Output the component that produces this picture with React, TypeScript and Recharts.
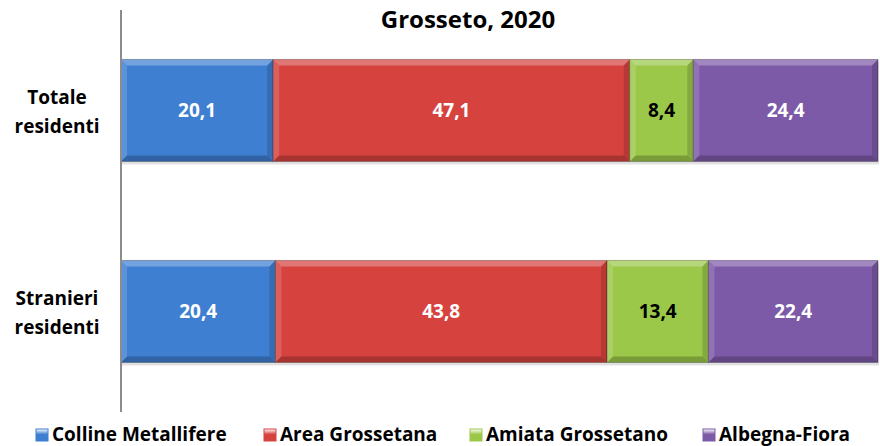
import React from 'react';
import { BarChart, Bar, XAxis, YAxis, LabelList } from 'recharts';

const categories = ['Totale residenti', 'Stranieri residenti'];
const collineMetallifere = [20.1, 20.4];
const areaGrossetana = [47.1, 43.8];
const amiataGrossetano = [8.4, 13.4];
const albegnaFiora = [24.4, 22.4];

const seriesNames = ['Colline Metallifere', 'Area Grossetana', 'Amiata Grossetano', 'Albegna-Fiora'];
const seriesKeys = ['cm', 'ag', 'am', 'af'];
const seriesColors = ['#3f7fd2', '#d6433f', '#9cc84a', '#7d5aa8'];
const labelColors = ['#ffffff', '#ffffff', '#000000', '#ffffff'];

const data = categories.map((name, i) => ({
    name,
    cm: collineMetallifere[i],
    ag: areaGrossetana[i],
    am: amiataGrossetano[i],
    af: albegnaFiora[i],
}));

const FONT = '"Open Sans", Lato, sans-serif';

// bevelled bar segment, Office 2007 style
const BevelBar = (props: any) => {
    const { x, y, width, height, fill } = props;
    const b = 6;
    return (
        <g>
            <rect x={x + 1} y={y + 3} width={width} height={height} fill="#000" opacity={0.12} />
            <rect x={x} y={y} width={width} height={height} fill={fill} />
            <polygon points={`${x},${y} ${x + width},${y} ${x + width - b},${y + b} ${x + b},${y + b}`} fill="#fff" opacity={0.28} />
            <polygon points={`${x},${y} ${x + b},${y + b} ${x + b},${y + height - b} ${x},${y + height}`} fill="#fff" opacity={0.15} />
            <polygon points={`${x + width},${y} ${x + width},${y + height} ${x + width - b},${y + height - b} ${x + width - b},${y + b}`} fill="#000" opacity={0.15} />
            <polygon points={`${x},${y + height} ${x + b},${y + height - b} ${x + width - b},${y + height - b} ${x + width},${y + height}`} fill="#000" opacity={0.22} />
            <rect x={x} y={y} width={width} height={height} fill="none" stroke="#000" strokeOpacity={0.25} strokeWidth={1} />
        </g>
    );
};

const CategoryTick = (props: any) => {
    const { y, payload } = props;
    const words = String(payload.value).split(' ');
    return (
        <text x={57} y={y} textAnchor="middle" fontFamily={FONT} fontWeight={700} fontSize={19} fill="#000">
            <tspan x={57} dy={-7}>{words[0]}</tspan>
            <tspan x={57} dy={29}>{words[1]}</tspan>
        </text>
    );
};

const legendX = [36, 264, 470, 703];

export default function App() {
    return (
        <div style={{ position: 'absolute', left: 0, top: 0, width: 880, height: 446, background: '#fff', overflow: 'hidden' }}>
            <BarChart
                width={880}
                height={446}
                data={data}
                layout="vertical"
                stackOffset="expand"
                margin={{ top: 10, right: 2, left: 0, bottom: 34 }}
                barCategoryGap="24.6%"
            >
                <XAxis type="number" hide domain={[0, 1]} />
                <YAxis
                    type="category"
                    dataKey="name"
                    width={121}
                    axisLine={{ stroke: '#8c8c8c', strokeWidth: 2 }}
                    tickLine={false}
                    tick={<CategoryTick />}
                />
                {seriesKeys.map((k, i) => (
                    <Bar
                        key={k}
                        dataKey={k}
                        name={seriesNames[i]}
                        stackId="a"
                        fill={seriesColors[i]}
                        shape={<BevelBar />}
                        isAnimationActive={false}
                    >
                        <LabelList
                            dataKey={k}
                            position="center"
                            formatter={(v: any) => String(v).replace('.', ',')}
                            style={{ fill: labelColors[i], fontFamily: FONT, fontWeight: 700, fontSize: 19 }}
                        />
                    </Bar>
                ))}
            </BarChart>
            {/* title and legend drawn over the chart */}
            <svg width={880} height={446} style={{ position: 'absolute', left: 0, top: 0, pointerEvents: 'none' }}>
                <text x={468} y={28} textAnchor="middle" fontFamily={FONT} fontWeight={700} fontSize={24} fill="#000">
                    Grosseto, 2020
                </text>
                <defs>
                    {seriesColors.map((c, i) => (
                        <linearGradient key={i} id={`lg${i}`} x1="0" y1="0" x2="0" y2="1">
                            <stop offset="0%" stopColor="#fff" />
                            <stop offset="45%" stopColor={c} />
                            <stop offset="100%" stopColor={c} />
                        </linearGradient>
                    ))}
                </defs>
                {seriesNames.map((n, i) => (
                    <g key={n}>
                        <rect x={legendX[i]} y={429} width={12} height={12} fill={`url(#lg${i})`} stroke={seriesColors[i]} />
                        <text x={legendX[i] + 16} y={441} fontFamily={FONT} fontWeight={700} fontSize={19} fill="#000">
                            {n}
                        </text>
                    </g>
                ))}
            </svg>
        </div>
    );
}
